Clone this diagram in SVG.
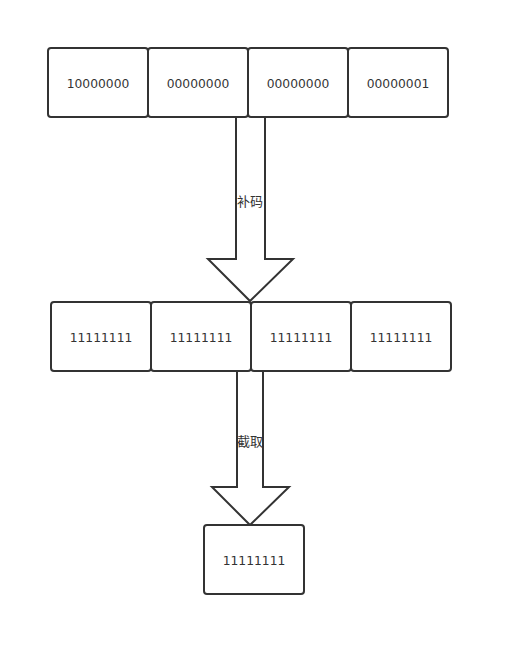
<svg xmlns="http://www.w3.org/2000/svg" width="512" height="657" viewBox="0 0 512 657">
<style>
.box{fill:#fff;stroke:#333;stroke-width:2}
.arrow{fill:#fff;stroke:#333;stroke-width:2;stroke-linejoin:miter}
.t{font-family:"DejaVu Sans",sans-serif;font-size:12.3px;fill:#333;text-anchor:middle}
.lbl{font-family:"Noto Sans CJK SC",sans-serif;font-size:13px;fill:#333;text-anchor:middle}
</style>
<rect width="512" height="657" fill="#fff"/>
<g id="connectors">
<path class="arrow" d="M236,117 L236,259 L208,259 L250,301 L293,259 L265,259 L265,117"/>
<text class="lbl" x="250" y="206">补码</text>
<path class="arrow" d="M237,371 L237,487 L212,487 L250,525 L289,487 L263,487 L263,371"/>
<text class="lbl" x="250" y="446">截取</text>
</g>
<g id="a1"><rect class="box" x="48" y="48" width="100" height="69" rx="3"/><text class="t" x="98" y="87.5">10000000</text></g>
<g id="a2"><rect class="box" x="148" y="48" width="100" height="69" rx="3"/><text class="t" x="198" y="87.5">00000000</text></g>
<g id="a3"><rect class="box" x="248" y="48" width="100" height="69" rx="3"/><text class="t" x="298" y="87.5">00000000</text></g>
<g id="a4"><rect class="box" x="348" y="48" width="100" height="69" rx="3"/><text class="t" x="398" y="87.5">00000001</text></g>
<g id="b1"><rect class="box" x="51" y="302" width="100" height="69" rx="3"/><text class="t" x="101" y="341.5">11111111</text></g>
<g id="b2"><rect class="box" x="151" y="302" width="100" height="69" rx="3"/><text class="t" x="201" y="341.5">11111111</text></g>
<g id="b3"><rect class="box" x="251" y="302" width="100" height="69" rx="3"/><text class="t" x="301" y="341.5">11111111</text></g>
<g id="b4"><rect class="box" x="351" y="302" width="100" height="69" rx="3"/><text class="t" x="401" y="341.5">11111111</text></g>
<g id="c1"><rect class="box" x="204" y="525" width="100" height="69" rx="3"/><text class="t" x="254" y="564.5">11111111</text></g>
</svg>
